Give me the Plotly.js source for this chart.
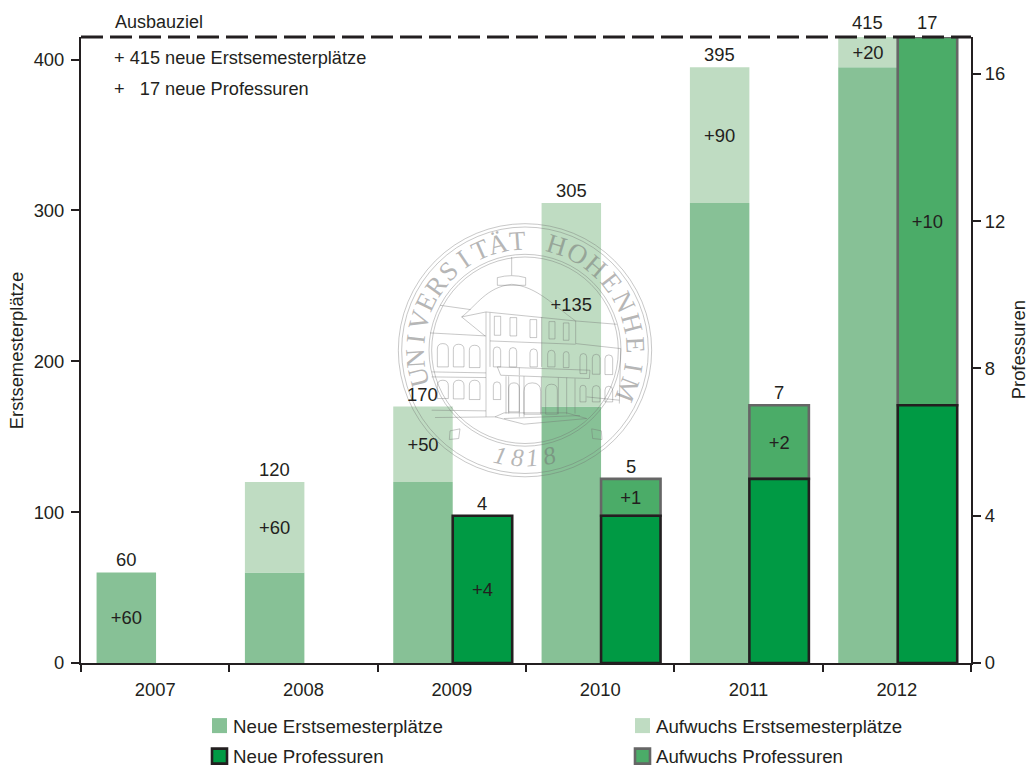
<!DOCTYPE html>
<html><head><meta charset="utf-8">
<script src="https://cdn.plot.ly/plotly-3.0.1.min.js"></script>
<style>html,body{margin:0;padding:0;background:#fff}</style></head>
<body><div id="chart" style="width:1030px;height:767px"></div>
<script>
const years = ['2007','2008','2009','2010','2011','2012'];
const neuePlaetze = [60,60,120,170,305,395];
const aufwuchsPlaetze = [null,60,50,135,90,20];
const neueProf = [null,null,4,4,5,7];
const aufwuchsProf = [null,null,null,1,2,10];
const totalPlaetze = [60,120,170,305,395,415];
const totalProf = [null,null,4,5,7,17];
const labelNeuePlaetze = ['+60','','','','',''];
const labelAufwuchsPlaetze = ['','+60','+50','+135','+90','+20'];
const labelNeueProf = ['','','+4','','',''];
const labelAufwuchsProf = ['','','','+1','+2','+10'];
const noteLines = ['Ausbauziel','+ 415 neue Erstsemesterplätze','+&nbsp;&nbsp;&nbsp;17 neue Professuren'];

const INK='#231f20', FONT='"Liberation Sans", Arial, sans-serif', FS=18.4;
const W=1030,H=767,L=81,R=971,T=36.5,B=663;
const px=x=>(x-L)/(R-L), py=y=>(B-y)/(B-T);
const OFF_L=-0.395, OFF_R=0.006, BW=0.401;

function bar(name,y,base,text,color,lineColor,lineW,yaxis,offset,legend){
  return {type:'bar',name,x:years,y,base,text,yaxis,offset,width:BW,legend,
    marker:{color,line:{color:lineColor,width:lineW}},
    textposition:'inside',insidetextanchor:'middle',textangle:0,constraintext:'none',
    insidetextfont:{family:FONT,size:FS,color:INK},cliponaxis:false,hoverinfo:'skip'};
}
const data=[
 bar('Neue Erstsemesterplätze',neuePlaetze,null,labelNeuePlaetze,'#87c196','#87c196',0,'y',OFF_L,'legend'),
 bar('Aufwuchs Erstsemesterplätze',aufwuchsPlaetze,neuePlaetze,labelAufwuchsPlaetze,'#bfdcc2','#bfdcc2',0,'y',OFF_L,'legend'),
 bar('Aufwuchs Professuren',aufwuchsProf,neueProf,labelAufwuchsProf,'#4bac68','#666666',2.6,'y2',OFF_R,'legend2'),
 bar('Neue Professuren',neueProf,null,labelNeueProf,'#009a44',INK,2.6,'y2',OFF_R,'legend2')
];

/* Seal watermark, drawn in a local 900x900 box */
const sx=z=>380+z/3, sy=z=>190+z/3;
const SEAL='rgba(110,110,110,0.38)';
function sealPath(d,w){
  let i=0;
  const path=d.replace(/-?\d+(\.\d+)?/g,n=>{const v=+n;const r=(i++%2===0)?px(sx(v)):py(sy(v));return r.toFixed(5);});
  return {type:'path',xref:'paper',yref:'paper',path,layer:'above',line:{color:SEAL,width:w||1}};
}
function sealCircle(r,w){
  const c=[435,480];
  return {type:'circle',xref:'paper',yref:'paper',x0:px(sx(c[0]-r)),x1:px(sx(c[0]+r)),y0:py(sy(c[1]+r)),y1:py(sy(c[1]-r)),layer:'above',line:{color:SEAL,width:w||1}};
}
function arch(x0,x1,top,bot){
  const m=(x0+x1)/2,s=top+(x1-x0)*0.5;
  return `M${x0} ${bot} L${x0} ${s} Q${x0} ${top} ${m} ${top} Q${x1} ${top} ${x1} ${s} L${x1} ${bot} Z`;
}
const sealLines=[
 'M395 200 L395 255',
 'M352 262 Q395 250 437 262 L437 285 L352 285 Z',
 'M245 380 C290 345 320 290 395 282 C470 288 520 345 587 392',
 'M180 345 L272 358','M245 380 L318 365 L587 392 L710 402',
 'M245 380 L315 437','M150 428 L318 437','M587 392 L587 460 L722 475',
 'M318 365 L318 680','M330 367 L330 530','M485 380 L485 530','M722 475 L718 640',
 'M330 452 L587 462','M155 545 L318 548','M155 560 L318 562','M155 660 L318 662','M165 682 L345 680',
 'M352 530 L630 540 L628 565 L362 555 Z','M418 532 L418 555',
 'M378 558 L378 670','M386 558 L386 670','M418 558 L418 680','M432 558 L432 680','M484 560 L484 675','M535 562 L535 672','M560 562 L560 672','M585 565 L585 670',
 'M345 680 L432 702 L620 685 L560 668 L372 668 Z','M372 685 L600 676','M620 620 L718 630'
];
const arches=[[172,205,460,530],[220,252,462,530],[268,300,465,532],
 [340,362,470,530],[388,410,472,530],[450,472,476,530],[503,525,480,530],[550,567,484,532],[600,620,490,550],[637,660,492,552],[675,698,494,553],
 [172,205,570,625],[220,252,570,626],[268,300,570,628],[340,362,575,628],[386,418,578,665],[432,482,578,672],[497,532,582,672],[600,618,585,635],[637,660,586,635],[675,698,588,635]];
const windows=[[343,362,378,435],[390,410,382,437],[450,470,388,442],[507,525,394,446],[550,567,398,450]];
const shapes=[
 sealCircle(380,1),sealCircle(370,1),sealCircle(288,1),sealCircle(280,1),
 ...sealLines.map(d=>sealPath(d,1)),
 ...arches.map(a=>sealPath(arch(...a),1)),
 ...windows.map(r=>sealPath(`M${r[0]} ${r[2]} L${r[1]} ${r[2]} L${r[1]} ${r[3]} L${r[0]} ${r[3]} Z`,1)),
 sealPath('M210 722 L240 716 L236 745 L208 748 Z',1),sealPath('M635 716 L664 722 L666 748 L638 745 Z',1),
 {type:'line',xref:'paper',x0:0,x1:1,yref:'paper',y0:1,y1:1,layer:'above',line:{color:INK,width:3,dash:'22px,7px'}}
];

const annotations=[];
years.forEach((yr,i)=>{
  annotations.push({xref:'x',yref:'y',x:i+OFF_L+BW/2,y:totalPlaetze[i],text:String(totalPlaetze[i]),showarrow:false,xanchor:'center',yanchor:'bottom',yshift:i===5?2:0,font:{family:FONT,size:FS,color:INK}});
  if(totalProf[i]!==null) annotations.push({xref:'x',yref:'y2',x:i+OFF_R+BW/2,y:totalProf[i],text:String(totalProf[i]),showarrow:false,xanchor:'center',yanchor:'bottom',yshift:i===5?2:0,font:{family:FONT,size:FS,color:INK}});
});
[[113,21,18],[112,58,18.2],[112,89,18.2]].forEach((p,i)=>annotations.push({xref:'paper',yref:'paper',x:px(p[0]),y:py(p[1]),xanchor:'left',yanchor:'middle',showarrow:false,text:noteLines[i],font:{family:FONT,size:p[2],color:INK}}));
annotations.push({xref:'paper',yref:'paper',x:px(1018),y:py(350),xanchor:'center',yanchor:'middle',textangle:-90,showarrow:false,text:'Professuren',font:{family:FONT,size:FS,color:INK}});
annotations.push({xref:'paper',yref:'paper',x:px(16),y:py(351),xanchor:'center',yanchor:'middle',textangle:-90,showarrow:false,text:'Erstsemesterplätze',font:{family:FONT,size:FS,color:INK}});

function sealLetter(ch,deg,r,size){
  const a=deg*Math.PI/180, c=[525,350];
  annotations.push({xref:'paper',yref:'paper',x:px(c[0]+r*Math.sin(a)),y:py(c[1]-r*Math.cos(a)),xanchor:'center',yanchor:'middle',text:ch,textangle:deg,showarrow:false,
    font:{family:'"Liberation Serif", serif',size,color:'rgba(110,110,110,0.5)'}});
}
[...'UNIVERSITÄT'].forEach((c,i)=>sealLetter(c,-104+i*10,110,27));
[...'HOHENHEIM'].forEach((c,i)=>sealLetter(c,17+i*11.75,110,27));
[['1',-13],['8',-4],['1',4],['8',13]].forEach(p=>{
  const a=p[1]*Math.PI/180;
  annotations.push({xref:'paper',yref:'paper',x:px(525+110*Math.sin(a)),y:py(350+110*Math.cos(a)-2),xanchor:'center',yanchor:'middle',text:'<i>'+p[0]+'</i>',textangle:-p[1],showarrow:false,font:{family:'"Liberation Serif", serif',size:25,color:'rgba(110,110,110,0.5)'}});
});

const axisBase={showgrid:false,zeroline:false,showline:true,linecolor:INK,linewidth:2,ticks:'outside',tickcolor:INK,tickwidth:2,
  tickfont:{family:FONT,size:FS,color:INK}};
const legendBase={orientation:'h',xanchor:'left',yanchor:'middle',bgcolor:'rgba(0,0,0,0)',borderwidth:0,entrywidth:378,entrywidthmode:'pixels',
  font:{family:FONT,size:18.7,color:INK},itemclick:false,itemdoubleclick:false,x:px(193)};
const layout={
  width:W,height:H,autosize:false,showlegend:true,barmode:'overlay',
  paper_bgcolor:'#fff',plot_bgcolor:'#fff',
  margin:{l:L,r:W-R,t:T,b:H-B,pad:0,autoexpand:false},
  xaxis:{...axisBase,type:'category',categoryorder:'array',categoryarray:years,range:[-0.5,5.5],tickson:'boundaries',ticklen:7,ticklabelstandoff:9},
  yaxis:{...axisBase,range:[0,415],tick0:0,dtick:100,ticklen:8,ticklabelstandoff:3},
  yaxis2:{...axisBase,overlaying:'y',side:'right',anchor:'x',range:[0,17],tick0:0,dtick:4,ticklen:8},
  legend:{...legendBase,y:py(726)},
  legend2:{...legendBase,y:py(756.5),traceorder:'reversed'},
  shapes,annotations
};
Plotly.newPlot('chart',data,layout,{displayModeBar:false}).then(()=>{
  document.querySelectorAll('.legendpoints path').forEach(p=>{
    p.setAttribute('d','M14,7.5H-1V-7.5H14Z');
  });
});
</script></body></html>
